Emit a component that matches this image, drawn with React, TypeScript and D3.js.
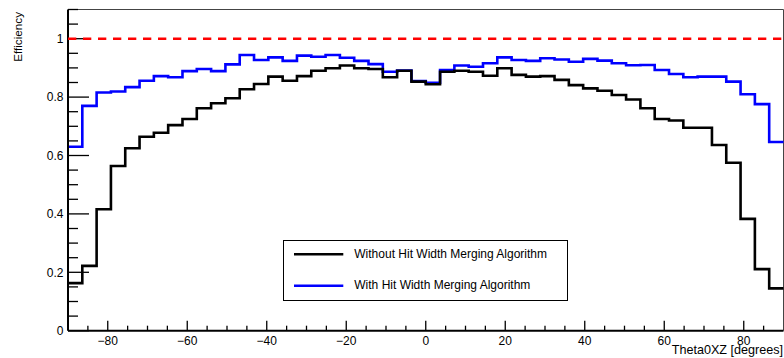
import React, { useRef, useEffect } from "react";
import * as d3 from "d3";

// 50 bins of 3.6 deg from -90 to 90
const binEdges = d3.range(51).map((i) => -90 + i * 3.6);

const withoutMerging = [
  0.163, 0.222, 0.416, 0.564, 0.625, 0.664, 0.678, 0.704, 0.725, 0.762,
  0.779, 0.796, 0.827, 0.845, 0.87, 0.856, 0.872, 0.89, 0.899, 0.908,
  0.899, 0.896, 0.868, 0.89, 0.853, 0.844, 0.887, 0.89, 0.887, 0.873,
  0.899, 0.876, 0.87, 0.872, 0.859, 0.841, 0.83, 0.822, 0.807, 0.792,
  0.762, 0.725, 0.72, 0.695, 0.695, 0.636, 0.575, 0.383, 0.211, 0.145,
];

const withMerging = [
  0.63, 0.77, 0.816, 0.819, 0.834, 0.856, 0.872, 0.868, 0.889, 0.896,
  0.889, 0.912, 0.944, 0.927, 0.936, 0.924, 0.942, 0.938, 0.944, 0.935,
  0.924, 0.913, 0.887, 0.891, 0.855, 0.849, 0.893, 0.908, 0.904, 0.916,
  0.936, 0.927, 0.924, 0.933, 0.929, 0.921, 0.931, 0.925, 0.916, 0.909,
  0.91, 0.893, 0.879, 0.868, 0.87, 0.87, 0.853, 0.81, 0.776, 0.646,
];

const legendLabels = [
  "Without Hit Width Merging Algorithm",
  "With Hit Width Merging Algorithm",
];

const xMajorTicks = [-80, -60, -40, -20, 0, 20, 40, 60, 80];
const yMajorTicks = [0, 0.2, 0.4, 0.6, 0.8, 1];

const W = 784;
const H = 358;
const margin = { left: 68, right: 0.5, top: 9.5, bottom: 27.3 };
const font = "'Liberation Sans', Arial, Helvetica, sans-serif";

function EfficiencyChart() {
  const svgRef = useRef<SVGSVGElement>(null);

  useEffect(() => {
    const svg = d3.select(svgRef.current);
    svg.selectAll("*").remove();

    const x = d3.scaleLinear().domain([-90, 90]).range([margin.left, W - margin.right]);
    const y = d3.scaleLinear().domain([0, 1.1]).range([H - margin.bottom, margin.top]);
    const x0 = x(-90), x1 = x(90), y0 = y(0), y1 = y(1.1);

    // frame (top / right)
    svg.append("path")
      .attr("d", `M${x0},${y1}H${x1}V${y0}`)
      .attr("fill", "none")
      .attr("stroke", "#444")
      .attr("stroke-width", 1);

    // histograms
    const stepLine = d3.line<[number, number]>()
      .x((d) => x(d[0]))
      .y((d) => y(d[1]))
      .curve(d3.curveStepAfter);

    const pts = (vals: number[]) => {
      const p: [number, number][] = vals.map((v, i) => [binEdges[i], v]);
      p.push([binEdges[vals.length], vals[vals.length - 1]]);
      return p;
    };

    svg.append("path")
      .attr("d", stepLine(pts(withMerging)))
      .attr("fill", "none")
      .attr("stroke", "#0000ff")
      .attr("stroke-width", 2.6);

    svg.append("path")
      .attr("d", stepLine(pts(withoutMerging)))
      .attr("fill", "none")
      .attr("stroke", "#000")
      .attr("stroke-width", 2.6);

    // y axis
    const yAx = svg.append("g");
    yAx.append("line")
      .attr("x1", x0).attr("x2", x0).attr("y1", y0).attr("y2", y1)
      .attr("stroke", "#000").attr("stroke-width", 2);
    d3.range(0, 1.1001, 0.05).forEach((t) => {
      const major = yMajorTicks.some((m) => Math.abs(m - t) < 1e-6);
      yAx.append("line")
        .attr("x1", x0).attr("x2", x0 + (major ? 21 : 10))
        .attr("y1", y(t)).attr("y2", y(t))
        .attr("stroke", "#000").attr("stroke-width", 1.3);
    });
    yMajorTicks.forEach((t) => {
      yAx.append("text")
        .attr("x", 63.5).attr("y", y(t) + 4.3)
        .attr("text-anchor", "end")
        .attr("font-family", font).attr("font-size", 12)
        .attr("fill", "#000")
        .text(d3.format("~g")(t));
    });

    // x axis
    const xAx = svg.append("g");
    xAx.append("line")
      .attr("x1", x0).attr("x2", x1).attr("y1", y0).attr("y2", y0)
      .attr("stroke", "#000").attr("stroke-width", 2);
    d3.range(-85, 90, 5).forEach((t) => {
      const major = xMajorTicks.includes(t);
      xAx.append("line")
        .attr("x1", x(t)).attr("x2", x(t))
        .attr("y1", y0).attr("y2", y0 - (major ? 10 : 5))
        .attr("stroke", "#000").attr("stroke-width", 1.3);
    });
    xMajorTicks.forEach((t) => {
      xAx.append("text")
        .attr("x", x(t)).attr("y", 344.5)
        .attr("text-anchor", "middle")
        .attr("font-family", font).attr("font-size", 12)
        .attr("fill", "#000")
        .text(d3.format("")(t));
    });

    // reference line at 1
    svg.append("line")
      .attr("x1", x0).attr("x2", x1).attr("y1", y(1)).attr("y2", y(1))
      .attr("stroke", "#ff0000").attr("stroke-width", 2.6)
      .attr("stroke-dasharray", "8.3,6.7");

    // axis titles
    svg.append("text")
      .attr("transform", `translate(21.5,${y1 + 2.5}) rotate(-90)`)
      .attr("text-anchor", "end")
      .attr("font-family", font).attr("font-size", 11.7)
      .attr("fill", "#000")
      .text("Efficiency");

    svg.append("text")
      .attr("x", 783).attr("y", 354.3)
      .attr("text-anchor", "end")
      .attr("font-family", font).attr("font-size", 12.6)
      .attr("fill", "#000")
      .text("Theta0XZ [degrees]");

    // legend
    const lg = svg.append("g");
    lg.append("rect")
      .attr("x", 283.5).attr("y", 240.5).attr("width", 284).attr("height", 60)
      .attr("fill", "#fff").attr("stroke", "#000").attr("stroke-width", 1);
    const colors = ["#000", "#0000ff"];
    const rowsY = [254.3, 285.7];
    legendLabels.forEach((lab, i) => {
      lg.append("line")
        .attr("x1", 294).attr("x2", 343.3)
        .attr("y1", rowsY[i]).attr("y2", rowsY[i])
        .attr("stroke", colors[i]).attr("stroke-width", 2.6);
      lg.append("text")
        .attr("x", 354.3).attr("y", rowsY[i] + 3.6)
        .attr("font-family", font).attr("font-size", 12)
        .attr("fill", "#000")
        .text(lab);
    });
  }, []);

  return (
    <svg
      ref={svgRef}
      width={W}
      height={H}
      style={{ position: "absolute", left: 0, top: 0, background: "#fff" }}
    />
  );
}

export default function App() {
  return <EfficiencyChart />;
}
